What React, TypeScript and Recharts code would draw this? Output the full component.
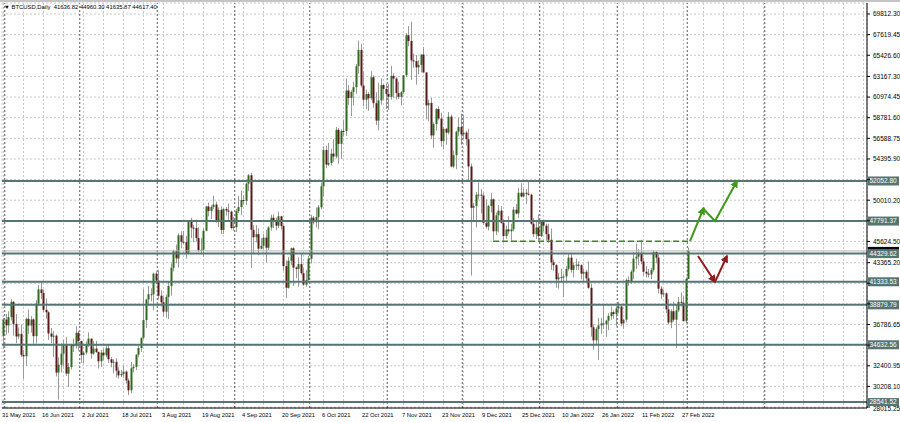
import { Bar, CartesianGrid, ComposedChart, Line, ReferenceLine, XAxis, YAxis } from "recharts";

// BTCUSD daily, 31 May 2021 .. 1 Mar 2022 (index 0 = 31 May 2021)
const OPEN = [
  35600, 37300, 36700, 37580, 39190, 36850, 35520, 35800, 33560, 33400, 37390, 36680, 37330, 35550, 39020, 40520,
  40140, 38350, 38090, 35830, 35500, 35600, 31680, 32510, 33690, 34660, 31570, 32270, 34700, 34490, 35910, 35040,
  33540, 33800, 34700, 35290, 33700, 34230, 33870, 32870, 33800, 33510, 34260, 33090, 32730, 32820, 31880, 31380,
  31520, 31780, 30830, 29790, 32140, 32290, 33580, 34290, 35380, 37270, 39460, 40000, 40010, 42200, 41460, 39850,
  39150, 38150, 39720, 40880, 42820, 44600, 43820, 46280, 45590, 45550, 44420, 47830, 47090, 47050, 45990, 44690,
  44740, 46760, 49340, 48870, 49290, 49550, 47700, 48990, 46850, 49080, 48900, 48800, 47050, 47150, 48850, 49280,
  50030, 49940, 51770, 52660, 46860, 46070, 46400, 44850, 45160, 46030, 44960, 47110, 48140, 47770, 47300, 48300,
  47260, 43000, 40700, 43570, 44890, 42840, 42700, 43210, 42240, 41030, 41520, 43790, 48140, 47660, 48230, 49250,
  51490, 55340, 53800, 53970, 54960, 54660, 57490, 56000, 57370, 57360, 61670, 60880, 61530, 62030, 64260, 65990,
  62210, 60690, 61300, 60850, 63080, 60330, 58480, 60620, 62250, 61850, 61320, 61000, 63230, 62940, 61400, 61000,
  61500, 63300, 67550, 66940, 64880, 64800, 64140, 64400, 65500, 63600, 60100, 60350, 56900, 58100, 59700, 58700,
  56300, 57600, 57200, 58900, 53600, 54800, 57300, 57800, 57000, 57200, 56500, 53600, 49200, 49400, 50600, 50600,
  50500, 47600, 47200, 49400, 50100, 46700, 48400, 48900, 47600, 46200, 46900, 46700, 46900, 49000, 48600, 50800,
  50400, 50800, 50700, 50600, 47500, 46400, 47100, 46200, 47700, 47300, 46400, 45800, 43400, 43100, 41600, 41800,
  41850, 41900, 42700, 43900, 42600, 43100, 43150, 43100, 42200, 42400, 41700, 40700, 36500, 35100, 36300, 36700,
  36900, 36800, 37200, 37700, 38100, 37900, 38500, 38700, 36900, 37300, 41500, 41400, 42400, 43800, 44000, 44400,
  43500, 42400, 42200, 42100, 42600, 44500, 43900, 40600, 40000, 40100, 38400, 37000, 38200, 37300, 38300, 39200,
  39100, 37150, 41636.82,
];
const HIGH = [
  37500, 37900, 38200, 39480, 39290, 37900, 36480, 36800, 34070, 37530, 38400, 37680, 37440, 39380, 41000, 41330,
  40500, 39560, 38200, 36430, 36110, 35740, 33300, 34800, 35150, 35480, 32690, 34740, 35300, 36600, 36100, 35040,
  33940, 35000, 35950, 35290, 35060, 35050, 33900, 34100, 34250, 34580, 34680, 33330, 33100, 33190, 32250, 31950,
  32400, 31900, 31050, 32800, 32600, 33650, 34500, 35400, 40550, 39520, 40900, 40640, 42300, 42400, 42600, 40430,
  39760, 39960, 41380, 43300, 44740, 45300, 46480, 46700, 46740, 46200, 47880, 48150, 47380, 47950, 47130, 46000,
  47030, 49380, 49750, 49480, 50500, 49850, 49240, 49350, 49160, 49300, 49640, 48900, 48250, 49100, 50450, 51030,
  50550, 51880, 52780, 52920, 47350, 47360, 47040, 45970, 46440, 46850, 47260, 48470, 48500, 48160, 48800, 48370,
  47340, 43600, 44000, 44970, 45000, 42970, 43930, 44350, 42790, 42600, 44100, 48450, 48340, 49230, 49500, 51890,
  55750, 55800, 56100, 55480, 56500, 57800, 57680, 57550, 58530, 62930, 62270, 61700, 62600, 64490, 67000, 66640,
  63720, 61750, 61490, 63710, 63290, 61500, 62500, 62960, 62350, 62400, 62400, 64300, 63500, 63100, 62600, 61600,
  63300, 67790, 68530, 69000, 65600, 65450, 64900, 65500, 66300, 63600, 60700, 60900, 58300, 59800, 60000, 59300,
  57800, 57700, 59400, 59100, 55300, 57400, 58800, 59200, 59100, 57400, 57600, 53900, 49700, 50900, 51900, 51200,
  50800, 50100, 49500, 50800, 50200, 48700, 49500, 49400, 48000, 47300, 48300, 47500, 49300, 49600, 51300, 51800,
  51200, 51200, 52000, 50700, 48100, 47900, 48500, 47900, 47900, 47500, 47500, 47000, 43700, 43200, 42300, 42700,
  42200, 43000, 44300, 44400, 43400, 43800, 43500, 43200, 42700, 42600, 43500, 41100, 36800, 36500, 37500, 37500,
  38900, 37300, 38000, 38700, 38300, 38700, 39200, 38800, 37400, 41700, 41900, 42600, 44500, 45400, 44800, 45800,
  43900, 43000, 42700, 42800, 44700, 44600, 44200, 40900, 40500, 40200, 39500, 38400, 39200, 38900, 39700, 40200,
  39800, 41800, 44960.3,
];
const LOW = [
  34200, 35700, 35900, 37200, 35600, 34800, 35260, 33330, 31000, 32400, 35800, 35930, 34600, 34760, 38730, 39510,
  38120, 37400, 35150, 34800, 33340, 31260, 28800, 31700, 32300, 31300, 30150, 32000, 33860, 34230, 34000, 32710,
  32700, 33600, 34400, 33150, 33550, 33770, 32110, 32270, 33010, 33320, 32700, 32250, 31600, 31150, 31050, 31180,
  31120, 30500, 29280, 29480, 31700, 31950, 33300, 33880, 35250, 36420, 38800, 39250, 38320, 41070, 39430, 38700,
  37640, 37510, 37360, 39860, 42440, 43290, 42840, 44900, 45350, 43800, 44250, 45970, 45540, 45600, 44500, 44270,
  43990, 46700, 48310, 48000, 49080, 47600, 47160, 46400, 46410, 48380, 47900, 46900, 46750, 46600, 48650, 48400,
  49550, 49500, 50970, 42800, 44400, 45510, 44150, 44780, 44750, 43400, 44710, 46760, 47050, 46800, 47050, 46900,
  42500, 39600, 40600, 43100, 40900, 41700, 40800, 42100, 40900, 40800, 41450, 43300, 47430, 47120, 46900, 49050,
  50400, 53400, 53650, 53700, 54100, 54450, 53900, 54400, 56820, 56850, 60150, 58960, 60100, 61330, 63480, 62000,
  60000, 59700, 59520, 60650, 59820, 58000, 57450, 60180, 60720, 59700, 59600, 60700, 60900, 60700, 60750, 60100,
  61320, 63100, 66380, 62800, 64100, 62300, 63400, 63600, 63500, 58600, 58400, 56500, 55600, 57400, 58500, 55700,
  55400, 55900, 57000, 53500, 53400, 53300, 56800, 55900, 56500, 55800, 52000, 42000, 47800, 47100, 50100, 48600,
  47400, 47000, 46800, 48700, 45800, 46300, 46600, 47500, 45500, 45900, 46400, 45600, 46700, 48500, 48100, 50300,
  50300, 49600, 50500, 47400, 46100, 45900, 45700, 46100, 46700, 45700, 45500, 42600, 42500, 40700, 40600, 41300,
  39700, 41300, 42500, 42300, 41800, 42600, 42600, 41600, 41300, 41200, 40600, 35500, 34100, 34600, 33000, 35800,
  36300, 35500, 36200, 37300, 37400, 36600, 38000, 36600, 36300, 37000, 40900, 41100, 41600, 42700, 43100, 43200,
  42000, 41800, 41800, 41600, 42400, 43300, 40100, 39500, 39700, 38000, 36800, 36400, 37100, 34300, 38100, 38700,
  37100, 36900, 41635.87,
];
const CLOSE = [
  37300, 36700, 37580, 39190, 36850, 35520, 35800, 33560, 33400, 37390, 36680, 37330, 35550, 39020, 40520, 40140,
  38350, 38090, 35830, 35500, 35600, 31680, 32510, 33690, 34660, 31570, 32270, 34700, 34490, 35910, 35040, 33540,
  33800, 34700, 35290, 33700, 34230, 33870, 32870, 33800, 33510, 34260, 33090, 32730, 32820, 31880, 31380, 31520,
  31780, 30830, 29790, 32140, 32290, 33580, 34290, 35380, 37270, 39460, 40000, 40010, 42200, 41460, 39850, 39150,
  38150, 39720, 40880, 42820, 44600, 43820, 46280, 45590, 45550, 44420, 47830, 47090, 47050, 45990, 44690, 44740,
  46760, 49340, 48870, 49290, 49550, 47700, 48990, 46850, 49080, 48900, 48800, 47050, 47150, 48850, 49280, 50030,
  49940, 51770, 52660, 46860, 46070, 46400, 44850, 45160, 46030, 44960, 47110, 48140, 47770, 47300, 48300, 47260,
  43000, 40700, 43570, 44890, 42840, 42700, 43210, 42240, 41030, 41520, 43790, 48140, 47660, 48230, 49250, 51490,
  55340, 53800, 53970, 54960, 54660, 57490, 56000, 57370, 57360, 61670, 60880, 61530, 62030, 64260, 65990, 62210,
  60690, 61300, 60850, 63080, 60330, 58480, 60620, 62250, 61850, 61320, 61000, 63230, 62940, 61400, 61000, 61500,
  63300, 67550, 66940, 64880, 64800, 64140, 64400, 65500, 63600, 60100, 60350, 56900, 58100, 59700, 58700, 56300,
  57600, 57200, 58900, 53600, 54800, 57300, 57800, 57000, 57200, 56500, 53600, 49200, 49400, 50600, 50600, 50500,
  47600, 47200, 49400, 50100, 46700, 48400, 48900, 47600, 46200, 46900, 46700, 46900, 49000, 48600, 50800, 50400,
  50800, 50700, 50600, 47500, 46400, 47100, 46200, 47700, 47300, 46400, 45800, 43400, 43100, 41600, 41800, 41850,
  41900, 42700, 43900, 42600, 43100, 43150, 43100, 42200, 42400, 41700, 40700, 36500, 35100, 36300, 36700, 36900,
  36800, 37200, 37700, 38100, 37900, 38500, 38700, 36900, 37300, 41500, 41400, 42400, 43800, 44000, 44400, 43500,
  42400, 42200, 42100, 42600, 44500, 43900, 40600, 40000, 40100, 38400, 37000, 38200, 37300, 38300, 39200, 39100,
  37150, 41636.82, 44617.4,
];

const X_LABELS = [
  "31 May 2021", "16 Jun 2021", "2 Jul 2021", "18 Jul 2021", "3 Aug 2021", "19 Aug 2021", "4 Sep 2021",
  "20 Sep 2021", "6 Oct 2021", "22 Oct 2021", "7 Nov 2021", "23 Nov 2021", "9 Dec 2021", "25 Dec 2021",
  "10 Jan 2022", "26 Jan 2022", "11 Feb 2022", "27 Feb 2022",
];
const LABEL_STEP = 16; // days between date labels
const GRID_STEP = 8;
const LAST_DAY = 345;
const MONTH_STARTS = [1, 31, 62, 93, 123, 154, 184, 215, 246, 274, 305];

const PRICE_TICKS = [
  69812.3, 67619.45, 65426.6, 63167.3, 60974.45, 58781.6, 56588.75, 54395.9, 52203.05, 50010.2,
  47817.35, 45624.5, 43365.2, 41172.35, 38979.5, 36786.65, 34593.8, 32400.95, 30208.1, 28015.25,
];
const HIDDEN_TICKS = [52203.05, 47817.35, 41172.35, 38979.5, 34593.8];
const PRICE_MIN = 27908.9;
const PRICE_MAX = 70982.15;

const LEVELS = [52052.8, 47791.37, 44329.62, 41333.53, 38879.79, 34632.56, 28541.52];
const BID = 44617.4;

// hand-drawn annotations: [day, price]
const SUPPORT_DASH = [{ i: 195.8, p: 45650 }, { i: 274.6, p: 45650 }];
const UP_LEG_1 = [{ i: 274.6, p: 45650 }, { i: 280.1, p: 49180 }];
const UP_LEG_2 = [{ i: 279.6, p: 49180 }, { i: 284.6, p: 47800 }, { i: 293.4, p: 52052 }];
const DOWN_LEG_1 = [{ i: 277.8, p: 44075 }, { i: 284.6, p: 41330 }];
const DOWN_LEG_2 = [{ i: 284.6, p: 41330 }, { i: 289.4, p: 44075 }];

const FONT = "'Liberation Sans', Arial, sans-serif";
const LEVEL_COLOR = "#557573";
const BULL = "#2f6a1f";
const BEAR = "#5a1818";
const WICK = "#9a9a9a";
const ARROW_UP = "#3f9a1c";
const ARROW_DOWN = "#8e1c1c";

const rows = OPEN.map((o, i) => ({ i, o, h: HIGH[i], l: LOW[i], c: CLOSE[i], range: [LOW[i], HIGH[i]] }));
const xTicks = Array.from({ length: Math.floor(LAST_DAY / GRID_STEP) + 1 }, (_, k) => k * GRID_STEP);

function Candle(props: any) {
  const { x, y, width, height, payload } = props;
  if (!payload || x == null || y == null) return null;
  const { o, h, l, c } = payload;
  const top = Math.min(y, y + height);
  const hgt = Math.abs(height);
  const cx = Math.round(x + width / 2) + 0.5;
  const span = h - l || 1;
  const py = (v: number) => top + ((h - v) / span) * hgt;
  const bTop = py(Math.max(o, c));
  const bBot = py(Math.min(o, c));
  return (
    <g>
      <line x1={cx} x2={cx} y1={top} y2={top + hgt} stroke={WICK} strokeWidth={1} />
      <rect x={cx - 1} y={bTop} width={2} height={Math.max(1, bBot - bTop)} fill={c >= o ? BULL : BEAR} />
    </g>
  );
}

function DateTick(props: any) {
  const { x, payload } = props;
  const v = payload.value;
  const idx = v / LABEL_STEP;
  if (v % LABEL_STEP !== 0 || idx >= X_LABELS.length) return null;
  return (
    <text x={x - 1.5} y={416.5} fontSize={5.8} fontFamily={FONT} fill="#000" textAnchor="start">
      {X_LABELS[idx]}
    </text>
  );
}

function PriceTick(props: any) {
  const { x, y, payload } = props;
  if (HIDDEN_TICKS.includes(payload.value)) return null;
  const low = payload.value === PRICE_TICKS[PRICE_TICKS.length - 1];
  return (
    <text x={x + 1} y={y + (low ? 3.6 : 2.4)} fontSize={6.5} fontFamily={FONT} fill="#000" textAnchor="start">
      {payload.value.toFixed(2)}
    </text>
  );
}

const boxLabel = (text: string, fill: string, h = 9) => (props: any) => {
  const vb = props.viewBox;
  const bx = vb.x + vb.width + 1;
  const by = vb.y;
  return (
    <g>
      <rect x={bx} y={by - h / 2} width={31} height={h} fill={fill} />
      {text && (
        <text x={bx + 1.5} y={by + 2.3} fontSize={6.5} fontFamily={FONT} fill="#fff">
          {text}
        </text>
      )}
    </g>
  );
};

export default function App() {
  return (
    <div style={{ position: "absolute", left: 0, top: 0, width: 900, height: 422, background: "#fff", overflow: "hidden" }}>
      <svg width={0} height={0} style={{ position: "absolute" }}>
        <defs>
          <marker id="ahUp" viewBox="0 0 10 10" refX={8} refY={5} markerWidth={4} markerHeight={4} orient="auto">
            <path d="M0,0 L10,5 L0,10 z" fill={ARROW_UP} />
          </marker>
          <marker id="ahDown" viewBox="0 0 10 10" refX={8} refY={5} markerWidth={4} markerHeight={4} orient="auto">
            <path d="M0,0 L10,5 L0,10 z" fill={ARROW_DOWN} />
          </marker>
        </defs>
      </svg>
      <div style={{ position: "absolute", left: 0, top: 0, width: 900, height: 2, background: "#c4c4c4" }} />
      <ComposedChart width={900} height={422} data={rows} margin={{ top: 3, right: 0, bottom: 0, left: 2 }}>
        <CartesianGrid stroke="#c8c8c8" strokeDasharray="2 2" />
        <XAxis
          dataKey="i"
          type="number"
          domain={[-0.6, LAST_DAY + 0.4]}
          allowDataOverflow
          ticks={xTicks}
          interval={0}
          tick={DateTick}
          tickLine={false}
          axisLine={{ stroke: "#000" }}
          height={14}
        />
        <YAxis
          orientation="right"
          type="number"
          domain={[PRICE_MIN, PRICE_MAX]}
          allowDataOverflow
          ticks={PRICE_TICKS}
          interval={0}
          tick={PriceTick}
          tickSize={3}
          tickLine={{ stroke: "#000" }}
          axisLine={{ stroke: "#000" }}
          width={33}
        />
        {MONTH_STARTS.map((d) => (
          <ReferenceLine key={`m${d}`} x={d - 0.5} stroke="#5a5a5a" strokeDasharray="2 2" />
        ))}
        <ReferenceLine y={BID} stroke="#b4b4b4" label={boxLabel("", "#000", 8)} />
        {LEVELS.map((v, k) => (
          <ReferenceLine
            key={`l${v}`}
            y={v}
            stroke={LEVEL_COLOR}
            strokeWidth={2}
            label={boxLabel(v.toFixed(2), LEVEL_COLOR, k === LEVELS.length - 1 ? 8 : 9)}
          />
        ))}
        <Bar dataKey="range" shape={Candle} barSize={2} isAnimationActive={false} />
        <Line data={SUPPORT_DASH} dataKey="p" stroke="#3a8a1a" strokeWidth={1.5} strokeDasharray="6 3" dot={false} activeDot={false} isAnimationActive={false} />
        <Line data={UP_LEG_1} dataKey="p" stroke={ARROW_UP} strokeWidth={2} dot={false} activeDot={false} markerEnd="url(#ahUp)" isAnimationActive={false} />
        <Line data={UP_LEG_2} dataKey="p" stroke={ARROW_UP} strokeWidth={2} dot={false} activeDot={false} markerEnd="url(#ahUp)" isAnimationActive={false} />
        <Line data={DOWN_LEG_1} dataKey="p" stroke={ARROW_DOWN} strokeWidth={2} dot={false} activeDot={false} markerEnd="url(#ahDown)" isAnimationActive={false} />
        <Line data={DOWN_LEG_2} dataKey="p" stroke={ARROW_DOWN} strokeWidth={2} dot={false} activeDot={false} markerEnd="url(#ahDown)" isAnimationActive={false} />
      </ComposedChart>
      <div style={{ position: "absolute", left: 4, top: 4, fontSize: 5.9, lineHeight: "7px", fontFamily: FONT, color: "#000", whiteSpace: "pre" }}>
        {"▼ BTCUSD,Daily  41636.82 44960.30 41635.87 44617.40"}
      </div>
    </div>
  );
}
